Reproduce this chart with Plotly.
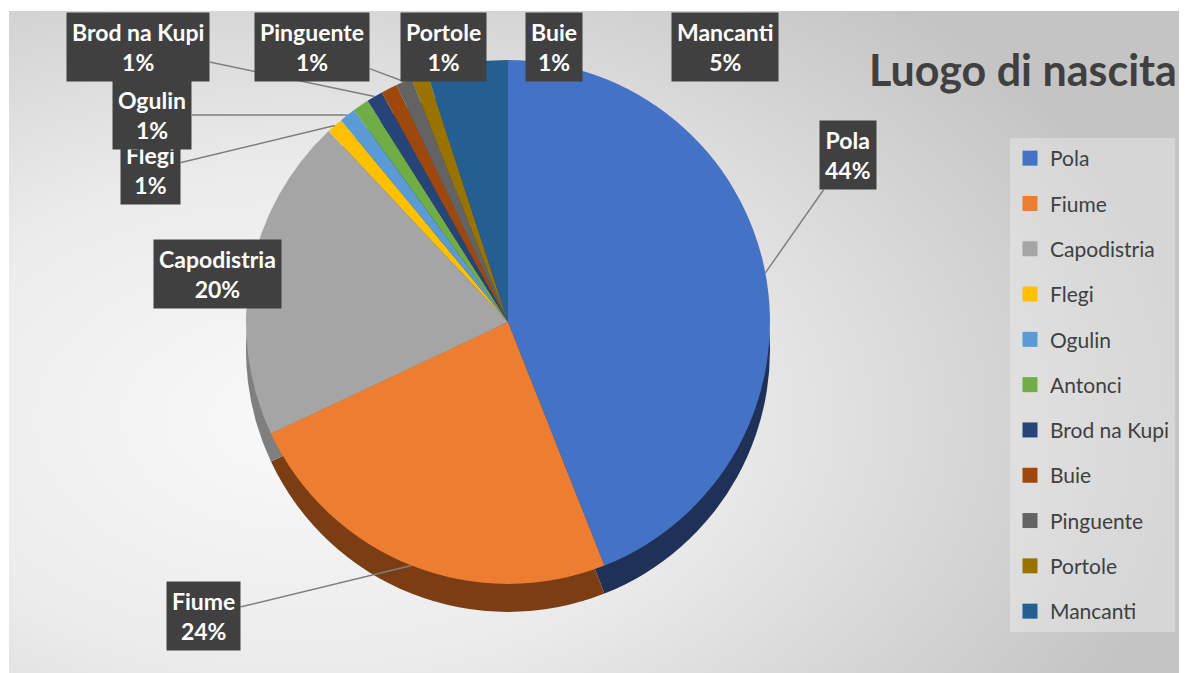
import math
import plotly.graph_objects as go

# ---- data ----
categories = ["Pola", "Fiume", "Capodistria", "Flegi", "Ogulin", "Antonci",
              "Brod na Kupi", "Buie", "Pinguente", "Portole", "Mancanti"]
values = [44, 24, 20, 1, 1, 1, 1, 1, 1, 1, 5]
colors = ["#4472C4", "#ED7D31", "#A5A5A5", "#FFC000", "#5B9BD5", "#70AD47",
          "#264478", "#9E480E", "#636363", "#997300", "#255E91"]
side_colors = ["#1F3157", "#7A3D14", "#7F7F7F", "#A67D00", "#3B6A96", "#4A7530",
               "#18294A", "#662E09", "#404040", "#634A00", "#173D5E"]
title_text = "Luogo di nascita"

OFF = 8                        # page body margin
W, H = 1187 - OFF, 673 - OFF   # figure size
CX, CY, R = 508, 322, 262      # pie centre / radius (screen pixels)
DEPTH = 28                     # pseudo-3D thickness

# label box centres (screen pixel layout), and which have a leader line
label_pos = {
    "Flegi": (150, 170), "Ogulin": (152, 115), "Brod na Kupi": (138, 47),
    "Pinguente": (312, 47), "Portole": (443, 47), "Buie": (554, 47),
    "Mancanti": (725, 47), "Pola": (848, 155), "Capodistria": (217, 274),
    "Fiume": (203, 616),
}
leader = {"Flegi", "Ogulin", "Brod na Kupi", "Pinguente", "Pola", "Fiume"}

def px(sx):
    return (sx - OFF) / W

def py(sy):
    return 1 - (sy - OFF) / H

def dom(cx, cy, r):
    return dict(x=[px(cx - r), px(cx + r)], y=[py(cy + r), py(cy - r)])

fig = go.Figure()

# background gradient (decoration)
fig.add_trace(go.Scatter(
    x=[-600, 1200, 1200, -600, -600], y=[-140, -140, 980, 980, -140],
    mode="lines", line=dict(width=0), fill="toself",
    fillgradient=dict(type="radial",
                      colorscale=[[0, "#f9f9f9"], [0.45, "#ebebeb"], [1, "#c4c4c4"]]),
    hoverinfo="skip", showlegend=False))

# side (depth) pie
fig.add_trace(go.Pie(
    labels=categories, values=values, sort=False, direction="clockwise",
    marker=dict(colors=side_colors, line=dict(width=0)),
    textinfo="none", hoverinfo="skip", showlegend=False,
    domain=dom(CX, CY + DEPTH, R)))

# top pie
fig.add_trace(go.Pie(
    labels=categories, values=values, sort=False, direction="clockwise",
    marker=dict(colors=colors, line=dict(width=0)),
    textinfo="none", showlegend=False,
    domain=dom(CX, CY, R)))

# legend entries
for i, (c, col) in enumerate(zip(categories, colors)):
    fig.add_trace(go.Scatter(
        x=[None], y=[None], mode="markers", name=c, legendgroup=f"g{i}",
        marker=dict(symbol="square", size=15, color=col), showlegend=True))

# data labels
total = sum(values)
annotations = []
cum = 0
mid = {}
for c, v in zip(categories, values):
    mid[c] = (cum + v / 2) / total * 2 * math.pi
    cum += v
order = ["Flegi", "Ogulin", "Brod na Kupi", "Pinguente", "Portole", "Buie",
         "Mancanti", "Pola", "Capodistria", "Fiume"]
for c in order:
    v = values[categories.index(c)]
    pct = round(v / total * 100)
    txt = f"<b>{c}</b><br><b>{pct}%</b>"
    lx, ly = label_pos[c]
    common = dict(text=txt, xref="x", yref="y", bgcolor="#404040",
                  borderpad=5, font=dict(family="Lato", size=23, color="white"),
                  align="center")
    if c in leader:
        a = mid[c]
        tx = CX + R * math.sin(a)
        ty = CY - R * math.cos(a)
        annotations.append(dict(x=tx, y=ty, ax=lx, ay=ly, axref="x", ayref="y",
                                showarrow=True, arrowhead=0, arrowwidth=1.5,
                                arrowcolor="#7f7f7f", **common))
    else:
        annotations.append(dict(x=lx, y=ly, showarrow=False, **common))

annotations.append(dict(text=f"<b>{title_text}</b>", xref="paper", yref="paper",
                        x=px(1179), y=py(70), xanchor="right", yanchor="middle",
                        showarrow=False,
                        font=dict(family="Lato", size=43, color="#404040")))

fig.update_layout(
    width=W, height=H,
    margin=dict(l=0, r=0, t=0, b=0),
    paper_bgcolor="white", plot_bgcolor="rgba(0,0,0,0)",
    xaxis=dict(domain=[px(9), 1], range=[9, 1187], visible=False, fixedrange=True),
    yaxis=dict(domain=[0, py(11)], range=[673, 11], visible=False, fixedrange=True),
    legend=dict(x=px(1010), y=py(138), xanchor="left", yanchor="top",
                bgcolor="rgba(255,255,255,0.3)", tracegroupgap=15,
                font=dict(family="Lato", size=21, color="#404040"),
                itemclick=False, itemdoubleclick=False),
    annotations=annotations,
    showlegend=True,
)

fig.write_html("out.html")
